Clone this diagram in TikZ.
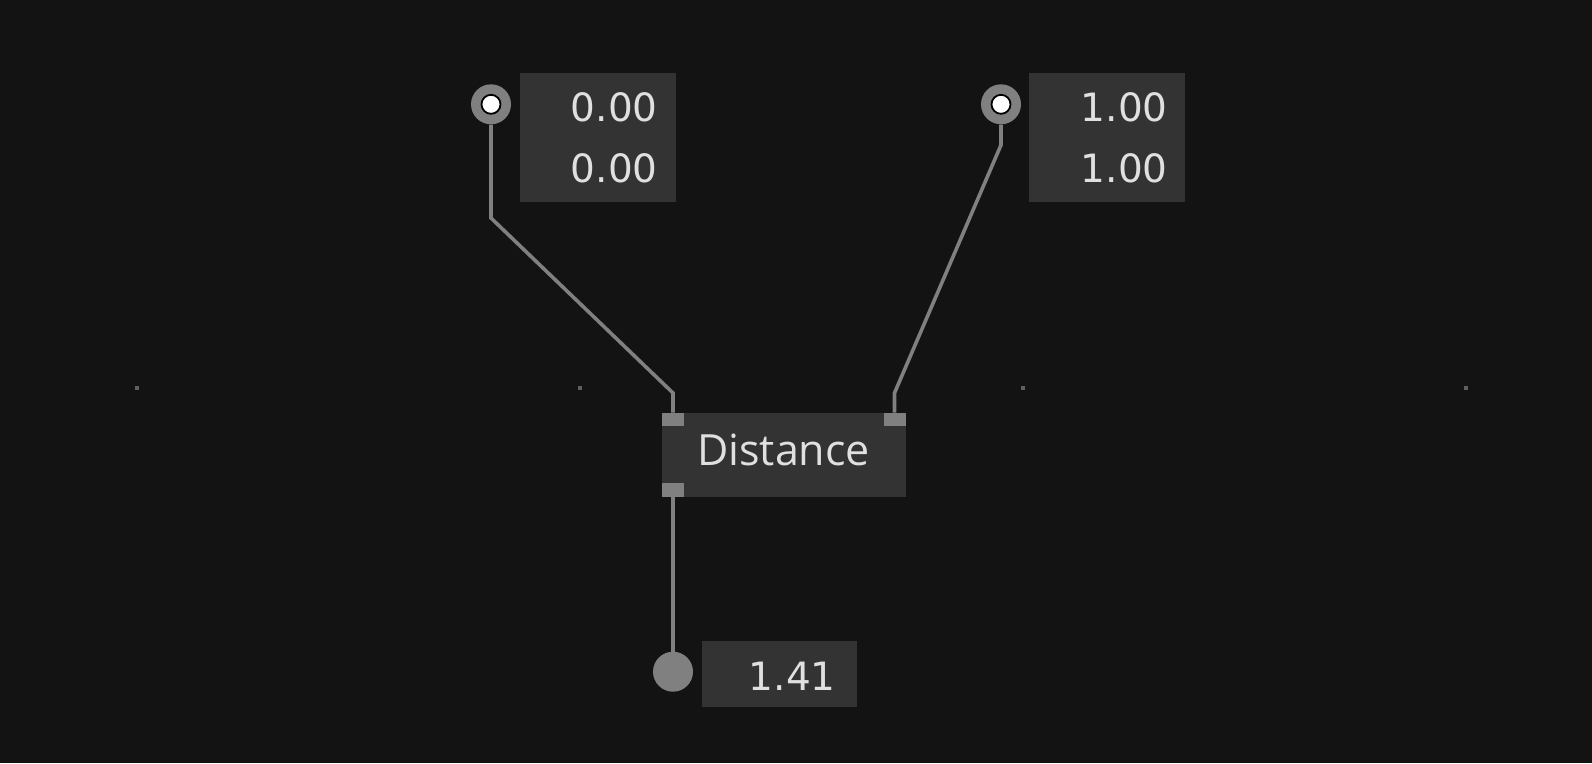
\documentclass[tikz,border=0pt]{standalone}
\usepackage{fontspec}
\setmainfont{Open Sans}
\newfontfamily\numfont{DejaVu Sans}[Scale=1.0]
\usetikzlibrary{positioning}
\definecolor{bg}{HTML}{131313}
\definecolor{boxgray}{HTML}{333333}
\definecolor{wiregray}{HTML}{808080}
\definecolor{textgray}{HTML}{E0E0E0}
\newcommand{\drawgriddots}[1] {
    \foreach \x in #1 {
      \fill[wiregray!70!bg] (\x-2,386) rectangle (\x+2,390); % grid marks
    }
}
\newcommand{\drawinport}[2] {
    \node[outring] (#1) at #2 {};
    \node[whitedot] at (#1) {};
}

\begin{document}
\begin{tikzpicture}[x=1pt, y=-1pt,
    valbox/.style={fill=boxgray, inner sep=0pt},
    numtext/.style={text=textgray, inner sep=0pt, font=\numfont\fontsize{39}{48}\selectfont},
    portbox/.style={fill=wiregray, inner sep=0pt, minimum width=22pt, minimum height=13.3pt},
    outring/.style={circle, fill=wiregray, inner sep=0pt, minimum size=40pt},
    whitedot/.style={circle, fill=white, draw=black, line width=1.8pt, inner sep=0pt, minimum size=19pt},
    wire/.style={draw=wiregray, line width=3.6pt}]
    \fill[bg] (0,0) rectangle (1592,763);
    \drawgriddots{{137,580,1023,1466}}

    % value boxes of the two points
    \node[valbox, minimum width=156pt, minimum height=128.4pt] (valA) at (598,137.5) {};
    \node[numtext, anchor=base east] (valAx) at (658,121.7) {0.00};
    \node[numtext, anchor=base east] (valAy) at (658,182.7) {0.00};
    \node[valbox, minimum width=156pt, minimum height=128.4pt] (valB) at (1107,137.5) {};
    \node[numtext, anchor=base east] (valBx) at (1168,121.7) {1.00};
    \node[numtext, anchor=base east] (valBy) at (1168,182.7) {1.00};

    \drawinport{inA}{(491,104.3)}
    \drawinport{inB}{(1001,104.3)}

    % distance node and its ports
    \node[valbox, minimum width=244pt, minimum height=84pt] (dist) at (783.7,454.7) {};
    \node[text=textgray, inner sep=0pt, anchor=base, font=\fontsize{43}{50}\selectfont] (distlabel) at (783.5,465.7) {Distance};
    \node[portbox] (pA) at (673,419.4) {};
    \node[portbox] (pB) at (894.5,419.4) {};
    \node[portbox] (pOut) at (673,490) {};

    % result
    \node[outring] (res) at (673,671.7) {};
    \node[valbox, minimum width=155pt, minimum height=66.3pt] (valR) at (779.2,674.2) {};
    \node[numtext, anchor=base east] (valRx) at (836,690) {1.41};

    \coordinate (kA1) at (491,218);
    \coordinate (kA2) at (673,393);
    \coordinate (kB1) at (1001,145);
    \coordinate (kB2) at (894.5,393);
    \draw[wire] (inA.south) -- (kA1) -- (kA2) -- (pA.north);
    \draw[wire] (inB.south) -- (kB1) -- (kB2) -- (pB.north);
    \draw[wire] (pOut.south) -- (res.north);
\end{tikzpicture}
\end{document}
